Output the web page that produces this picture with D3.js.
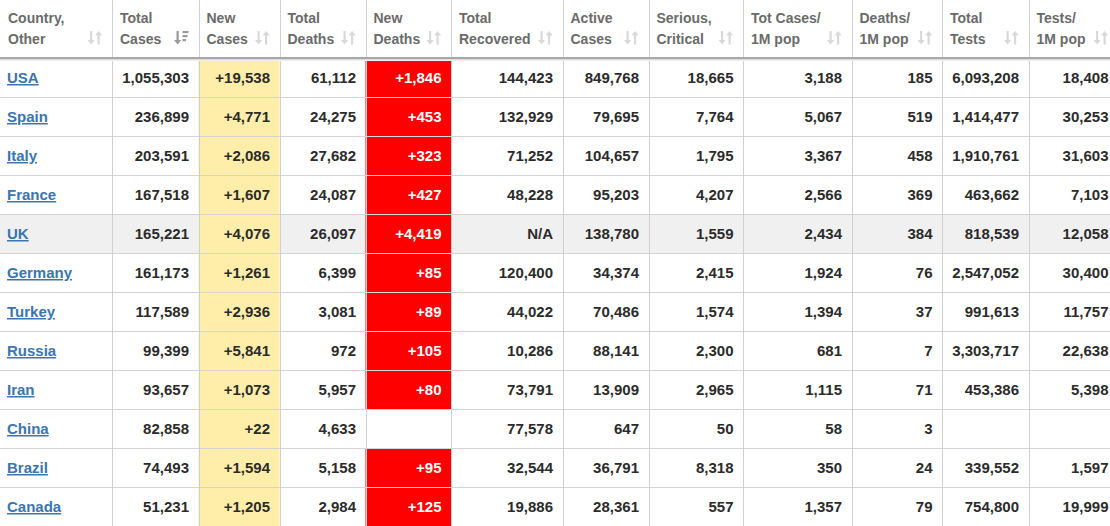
<!DOCTYPE html>
<html>
<head>
<meta charset="utf-8">
<script src="https://cdn.jsdelivr.net/npm/d3@7/dist/d3.min.js"></script>
<style>
  html, body { margin: 0; padding: 0; background: #fff; overflow: hidden; }
  svg { display: block; font-family: "Liberation Sans", Arial, sans-serif; }
</style>
</head>
<body>
<svg id="chart" width="1110" height="526"></svg>
<script>
// ---------- data ----------
const countries = ["USA","Spain","Italy","France","UK","Germany","Turkey","Russia","Iran","China","Brazil","Canada"];
const headers = [
  ["Country,","Other"],["Total","Cases"],["New","Cases"],["Total","Deaths"],["New","Deaths"],
  ["Total","Recovered"],["Active","Cases"],["Serious,","Critical"],["Tot Cases/","1M pop"],
  ["Deaths/","1M pop"],["Total","Tests"],["Tests/","1M pop"]
];
const totalCases   = [1055303,236899,203591,167518,165221,161173,117589,99399,93657,82858,74493,51231];
const newCases     = [19538,4771,2086,1607,4076,1261,2936,5841,1073,22,1594,1205];
const totalDeaths  = [61112,24275,27682,24087,26097,6399,3081,972,5957,4633,5158,2984];
const newDeaths    = [1846,453,323,427,4419,85,89,105,80,null,95,125];
const totalRecovered = [144423,132929,71252,48228,"N/A",120400,44022,10286,73791,77578,32544,19886];
const activeCases  = [849768,79695,104657,95203,138780,34374,70486,88141,13909,647,36791,28361];
const serious      = [18665,7764,1795,4207,1559,2415,1574,2300,2965,50,8318,557];
const casesPerM    = [3188,5067,3367,2566,2434,1924,1394,681,1115,58,350,1357];
const deathsPerM   = [185,519,458,369,384,76,37,7,71,3,24,79];
const totalTests   = [6093208,1414477,1910761,463662,818539,2547052,991613,3303717,453386,null,339552,754800];
const testsPerM    = [18408,30253,31603,7103,12058,30400,11757,22638,5398,null,1597,19999];
const highlightRow = "UK";

// ---------- layout ----------
const colEdges = [0,112,198.5,279.5,365.5,451,562.5,648.5,743,851.5,942,1028.5,1118];
const headerH = 58, W = 1110, H = 526;
const svg = d3.select("#chart");

const series = [null,totalCases,newCases,totalDeaths,newDeaths,totalRecovered,activeCases,serious,casesPerM,deathsPerM,totalTests,testsPerM];
const fmt = d3.format(","), fmtPlus = d3.format("+,");

const y = d3.scaleBand().domain(countries).range([headerH, headerH + 39*countries.length]).padding(0);
const cols = d3.range(headers.length).map(i => ({i, x0: colEdges[i], x1: colEdges[i+1]}));

// row backgrounds
svg.append("g").selectAll("rect").data(countries).join("rect")
  .attr("x", 0).attr("y", d => y(d)).attr("width", W).attr("height", y.bandwidth())
  .attr("fill", d => d === highlightRow ? "#f0f0f0" : "#fff");

// colored cells
const cellG = svg.append("g");
countries.forEach((c, r) => {
  cellG.append("rect").attr("x", cols[2].x0).attr("y", y(c)).attr("width", cols[2].x1 - cols[2].x0).attr("height", y.bandwidth()).attr("fill", "#ffeeaa");
  if (newDeaths[r] != null)
    cellG.append("rect").attr("x", cols[4].x0).attr("y", y(c)).attr("width", cols[4].x1 - cols[4].x0).attr("height", y.bandwidth()).attr("fill", "#ff0000");
});

// grid lines
const grid = svg.append("g").attr("shape-rendering", "crispEdges");
grid.selectAll("line.h").data(countries.slice(1)).join("line")
  .attr("x1", 0).attr("x2", W).attr("y1", d => Math.round(y(d)) + 0.5).attr("y2", d => Math.round(y(d)) + 0.5)
  .attr("stroke", "#d4d4d4");
grid.selectAll("line.v").data(colEdges.slice(1, -1)).join("line")
  .attr("x1", d => Math.round(d) + 0.5).attr("x2", d => Math.round(d) + 0.5).attr("y1", 0).attr("y2", H)
  .attr("stroke", "#d0d0d0");
// header bottom (thick) + shadow
grid.append("rect").attr("x", 0).attr("y", 57).attr("width", W).attr("height", 2).attr("fill", "#a8a8a8");
grid.append("rect").attr("x", 0).attr("y", 59).attr("width", W).attr("height", 1).attr("fill", "#dcdcdc");
grid.append("rect").attr("x", 0).attr("y", 60).attr("width", W).attr("height", 1).attr("fill", "#efefef");

// header text
const hg = svg.append("g");
cols.forEach(c => {
  const t = hg.append("text").attr("x", c.x0 + 8).attr("font-size", 14).attr("font-weight", "bold").attr("fill", "#6b6b6b");
  t.append("tspan").attr("x", c.x0 + 8).attr("y", 23).text(headers[c.i][0]);
  t.append("tspan").attr("x", c.x0 + 8).attr("y", 44).text(headers[c.i][1]);
  // sort icon
  const ix = c.x1 - 24, iy = 31;
  const ic = hg.append("g").attr("transform", `translate(${ix},${iy})`);
  if (c.i === 1) {
    const col = "#9a9a9a";
    ic.append("rect").attr("x", 2).attr("y", 0).attr("width", 2.2).attr("height", 10).attr("fill", col);
    ic.append("path").attr("d", "M-0.5,9 L6.7,9 L3.1,13.5 Z").attr("fill", col);
    ic.append("rect").attr("x", 8).attr("y", 0).attr("width", 6).attr("height", 2.2).attr("fill", col);
    ic.append("rect").attr("x", 8).attr("y", 4).attr("width", 5).attr("height", 2.2).attr("fill", col);
    ic.append("rect").attr("x", 8).attr("y", 8).attr("width", 3.5).attr("height", 2.2).attr("fill", col);
  } else {
    const col = "#d9d9d9";
    ic.append("rect").attr("x", 2).attr("y", 0).attr("width", 2.2).attr("height", 10).attr("fill", col);
    ic.append("path").attr("d", "M-0.5,9 L6.7,9 L3.1,13.5 Z").attr("fill", col);
    ic.append("rect").attr("x", 9.5).attr("y", 3.5).attr("width", 2.2).attr("height", 10).attr("fill", col);
    ic.append("path").attr("d", "M7,4.5 L14.2,4.5 L10.6,0 Z").attr("fill", col);
  }
});

// body text
const bg = svg.append("g").attr("font-size", 15).attr("font-weight", "bold");
countries.forEach((c, r) => {
  const base = y(c) + y.bandwidth() / 2 + 5.5;
  bg.append("text").attr("x", 7).attr("y", base).attr("fill", "#3a75b0")
    .attr("text-decoration", "underline").text(c);
  for (let k = 1; k < series.length; k++) {
    const v = series[k][r];
    if (v == null) continue;
    const txt = typeof v === "string" ? v : ((k === 2 || k === 4) ? fmtPlus(v) : fmt(v));
    bg.append("text").attr("x", cols[k].x1 - 9.5).attr("y", base).attr("text-anchor", "end")
      .attr("fill", k === 4 ? "#ffffff" : "#2b2b2b").text(txt);
  }
});
</script>
</body>
</html>
